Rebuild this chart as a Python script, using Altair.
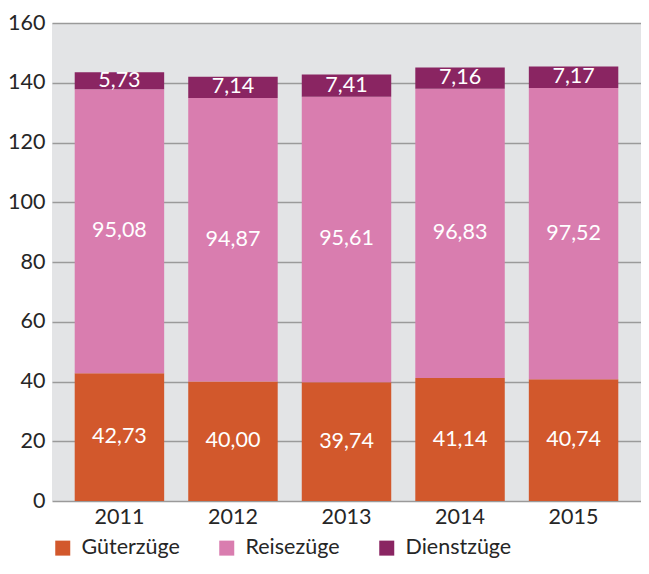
import altair as alt
import pandas as pd

years = ["2011", "2012", "2013", "2014", "2015"]
gueter = [42.73, 40.00, 39.74, 41.14, 40.74]
reise = [95.08, 94.87, 95.61, 96.83, 97.52]
dienst = [5.73, 7.14, 7.41, 7.16, 7.17]
series = ["Güterzüge", "Reisezüge", "Dienstzüge"]
colors = ["#D2582C", "#D97DAF", "#8A2562"]

rows = []
for i, y in enumerate(years):
    for k, (name, vals) in enumerate(zip(series, [gueter, reise, dienst])):
        v = vals[i]
        rows.append({"year": y, "series": name, "value": v, "order": k,
                     "label": f"{v:.2f}".replace(".", ",")})
df = pd.DataFrame(rows)

FONT = "Lato"
TXT = "#262626"
FS = 21.5

H = 478
base = alt.Chart(df).transform_stack(
    stack="value", groupby=["year"], sort=[alt.SortField("order")], as_=["y0", "y1"]
).transform_calculate(mid="(datum.y0 + datum.y1) / 2")

xenc = alt.X("year:N", title=None,
             scale=alt.Scale(paddingInner=0.212, paddingOuter=0.2),
             axis=alt.Axis(labelAngle=0, labelFontSize=FS, labelFont=FONT, labelColor=TXT,
                           ticks=False, domain=False, labelPadding=5))

bars = base.mark_bar().encode(
    x=xenc,
    y=alt.Y("y0:Q", title=None,
            scale=alt.Scale(domain=[0, 160], nice=False),
            axis=alt.Axis(values=list(range(0, 161, 20)), labelFontSize=FS, labelFont=FONT,
                          labelColor=TXT, ticks=False, domain=False, labelPadding=7,
                          grid=True, gridColor="#9a9a9a", gridWidth=1.3)),
    y2="y1:Q",
    color=alt.Color("series:N", scale=alt.Scale(domain=series, range=colors),
                    sort=series,
                    legend=alt.Legend(title=None, orient="none", legendX=0, legendY=H + 36,
                                      direction="horizontal", symbolType="square",
                                      symbolSize=225, symbolStrokeWidth=0,
                                      labelFontSize=FS, labelFont=FONT, labelColor=TXT,
                                      columnPadding=36, labelOffset=8)),
    order=alt.Order("order:Q"),
)

texts = base.mark_text(color="white", fontSize=FS, font=FONT, baseline="middle").encode(
    x=alt.X("year:N"),
    y=alt.Y("mid:Q"),
    text="label:N",
)

chart = alt.layer(bars, texts).properties(
    width=589, height=H,
    autosize=alt.AutoSizeParams(type="none"),
    padding={"left": 44, "top": 15, "right": 0, "bottom": 60},
).configure_view(fill="#E3E4E6", stroke=None)

chart.save("out.html", embed_options={"renderer": "svg", "actions": False})
